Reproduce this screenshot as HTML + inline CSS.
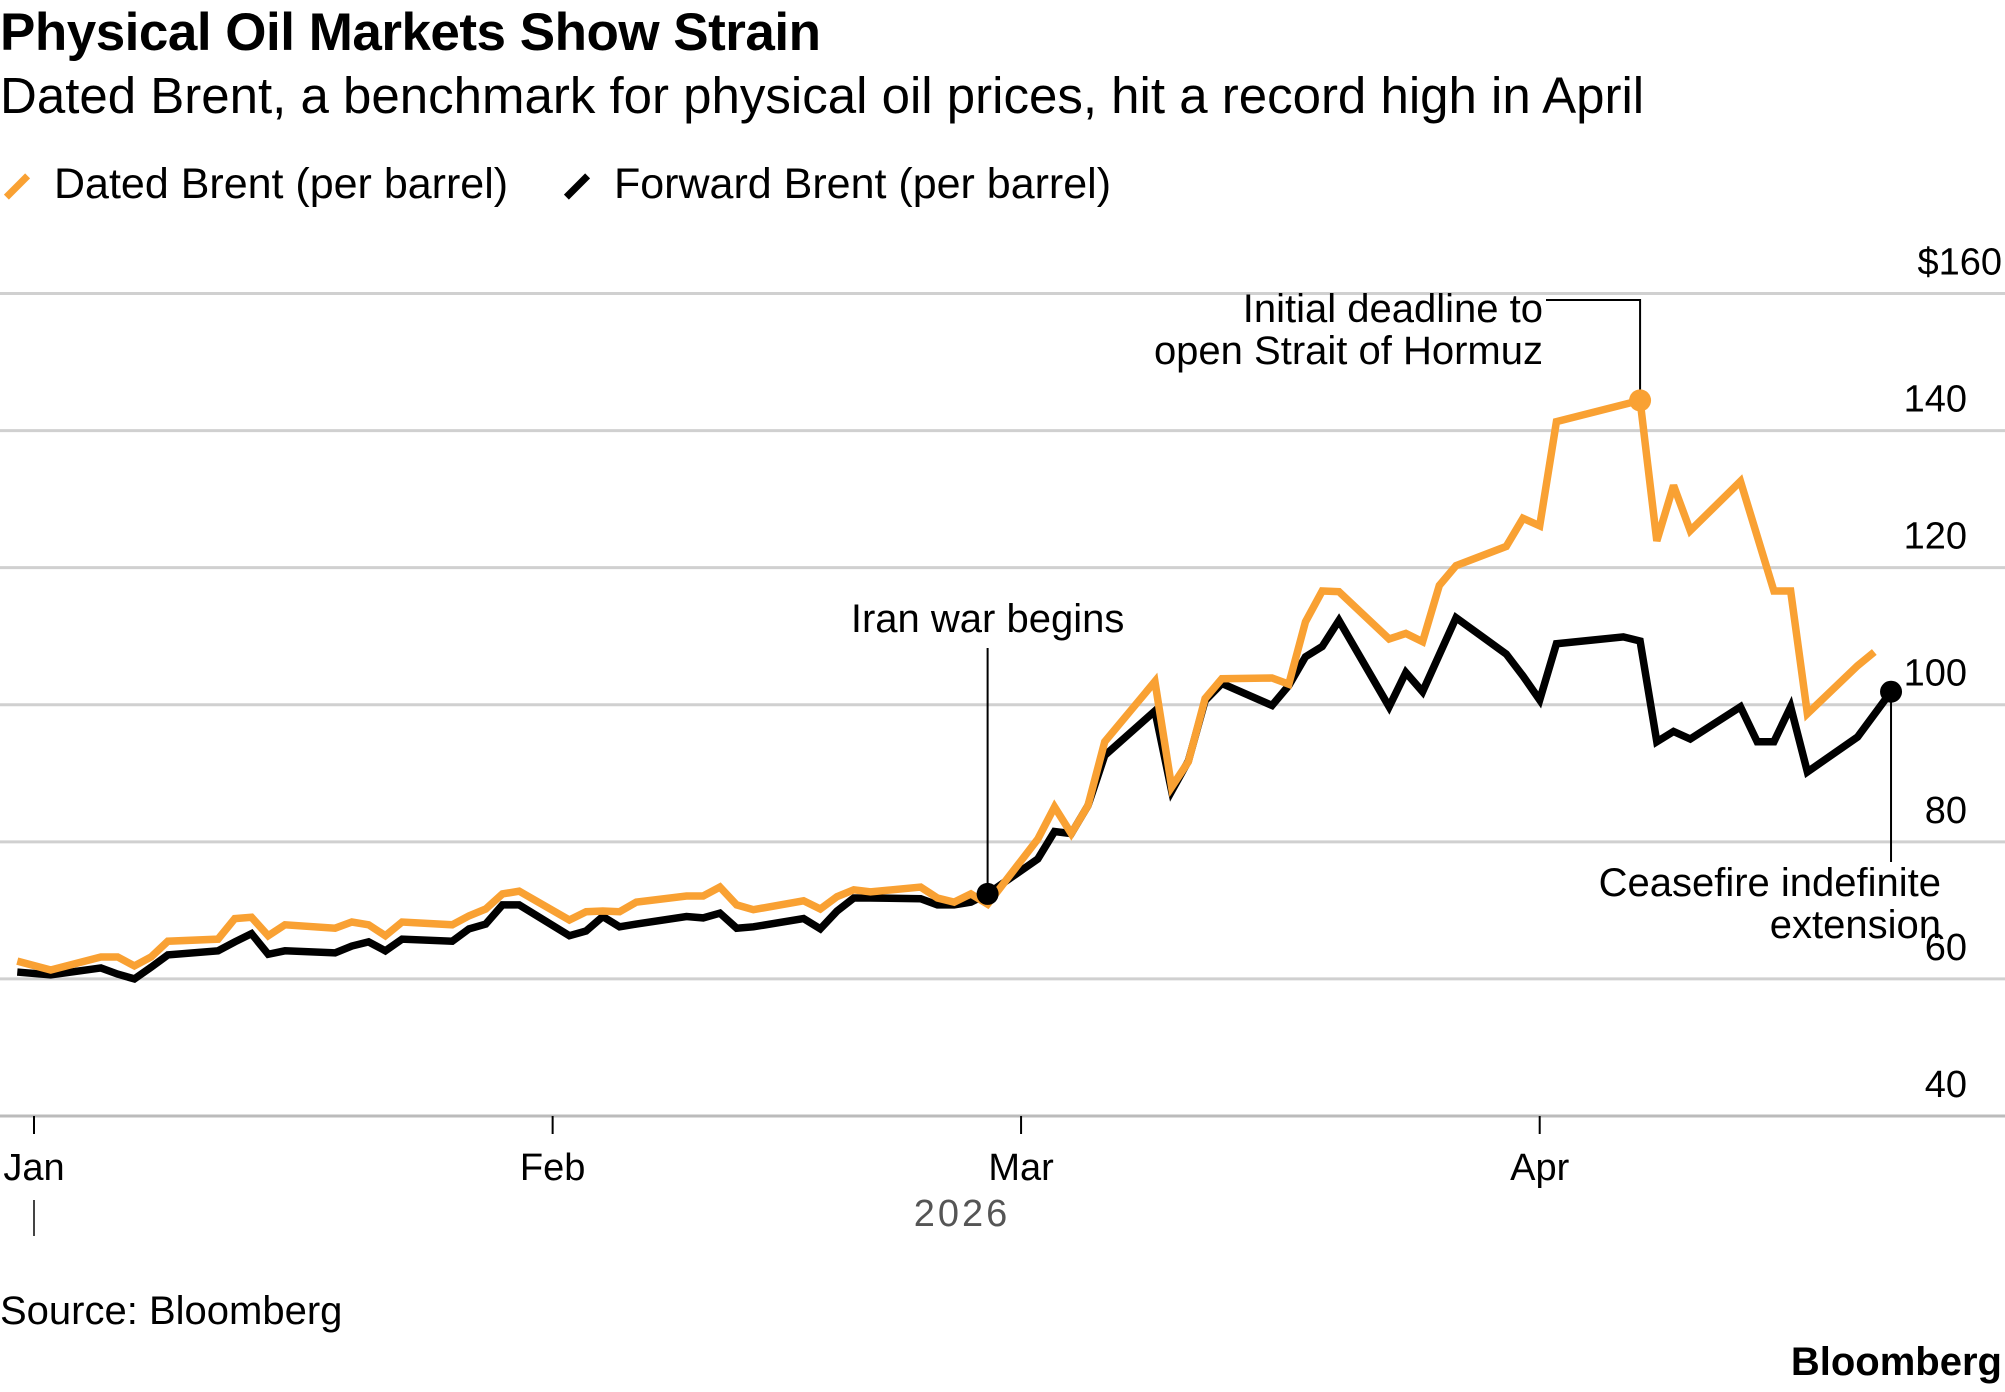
<!DOCTYPE html>
<html><head><meta charset="utf-8"><style>
body{margin:0;background:#fff;font-family:"Liberation Sans",sans-serif;}
#wrap{position:relative;width:2005px;height:1392px;overflow:hidden;}
.t{position:absolute;white-space:nowrap;color:#000;}
</style></head><body>
<div id="wrap">
<div class="t" style="left:0;top:2px;font-size:53px;font-weight:bold;letter-spacing:-0.5px;">Physical Oil Markets Show Strain</div>
<div class="t" style="left:0;top:66px;font-size:51px;">Dated Brent, a benchmark for physical oil prices, hit a record high in April</div>
<div class="t" style="left:0;top:160px;font-size:43px;"><span style="display:inline-block;width:30px;height:7px;background:#f9a133;transform:rotate(-45deg);vertical-align:middle;margin:0 22px 0 2px;"></span>Dated Brent (per barrel)</div>
<div class="t" style="left:560px;top:160px;font-size:43px;"><span style="display:inline-block;width:30px;height:7px;background:#000;transform:rotate(-45deg);vertical-align:middle;margin:0 22px 0 2px;"></span>Forward Brent (per barrel)</div>
<svg id="plot" width="2005" height="1392" style="position:absolute;left:0;top:0"></svg>
<div class="t" style="left:0;top:1289px;font-size:40px;">Source: Bloomberg</div>
<div class="t" style="right:3px;top:1340px;font-size:40px;font-weight:bold;">Bloomberg</div>
</div>
<script>
const yTicks=[40,60,80,100,120,140,160];
const yTickLabels=["40","60","80","100","120","140","$160"];
const monthDays=[0,31,59,90];
const monthLabels=["Jan","Feb","Mar","Apr"];
const datedDays=[-1,1,4,5,6,7,8,11,12,13,14,15,18,19,20,21,22,25,26,27,28,29,32,33,34,35,36,39,40,41,42,43,46,47,48,49,50,53,54,55,56,57,60,61,62,63,64,67,68,69,70,71,74,75,76,77,78,81,82,83,84,85,88,89,90,91,96,97,98,99,102,104,105,106,109,110];
const datedValues=[62.6,61.3,63.2,63.2,61.9,63.2,65.5,65.8,68.8,69.0,66.3,67.9,67.4,68.3,67.9,66.3,68.3,67.9,69.2,70.2,72.4,72.8,68.6,69.8,69.9,69.8,71.2,72.1,72.1,73.4,70.8,70.1,71.4,70.2,72.0,73.0,72.7,73.4,71.8,71.2,72.4,70.9,80.4,85.1,81.2,85.3,94.6,103.4,88.0,91.7,100.9,103.8,103.9,103.0,112.1,116.6,116.5,109.6,110.4,109.2,117.4,120.3,123.1,127.2,126.1,141.3,144.4,123.9,132.0,125.4,132.6,116.6,116.6,98.7,105.7,107.7];
const forwardDays=[-1,1,4,5,6,7,8,11,12,13,14,15,18,19,20,21,22,25,26,27,28,29,32,33,34,35,36,39,40,41,42,43,46,47,48,49,50,53,54,55,56,57,60,61,62,63,64,67,68,69,70,71,74,75,76,77,78,81,82,83,84,85,88,89,90,91,95,96,97,98,99,102,103,104,105,106,109,111];
const forwardValues=[61.0,60.6,61.6,60.7,60.0,61.7,63.5,64.1,65.4,66.6,63.6,64.1,63.8,64.8,65.4,64.1,65.8,65.5,67.3,68.0,70.8,70.8,66.3,67.0,69.1,67.6,68.0,69.1,68.9,69.6,67.4,67.6,68.8,67.3,69.9,71.8,71.8,71.7,70.8,70.8,71.2,72.4,77.5,81.5,81.2,85.3,92.6,99.1,87.4,91.8,100.6,103.1,99.9,102.8,107.0,108.5,112.3,99.7,104.7,101.9,107.3,112.7,107.4,104.2,100.7,108.9,109.9,109.3,94.6,96.1,95.0,99.7,94.6,94.6,99.7,90.2,95.3,101.9];

const NS="http://www.w3.org/2000/svg";
const svg=document.getElementById('plot');
const x=d=>34+d*16.73;
const y=v=>1116-(v-40)*6.8542;
function mk(tag,attrs){const e=document.createElementNS(NS,tag);for(const k in attrs)e.setAttribute(k,attrs[k]);svg.appendChild(e);return e;}
const FF='Liberation Sans, sans-serif';

yTicks.forEach((v,i)=>{
  const g=mk('line',{x1:0,x2:2005,y1:y(v),y2:y(v),stroke:i==0?'#bbb':'#d0d0d0','stroke-width':3});
  
  
  const t=mk('text',{x:1967,y:y(v)-19,'text-anchor':'end','font-size':38,'font-family':FF,fill:'#000'});
  if(i==yTicks.length-1){t.setAttribute('x',2002);}
  t.textContent=yTickLabels[i];
  
  
});
monthDays.forEach((d,i)=>{
  const tk=mk('line',{x1:x(d),x2:x(d),y1:1116,y2:1134,stroke:'#000','stroke-width':2});
  
  
  const t=mk('text',{x:x(d),y:1180,'text-anchor':'middle','font-size':38,'font-family':FF,fill:'#000'});
  t.textContent=monthLabels[i];
  
  
});
const yr=mk('line',{x1:x(0),x2:x(0),y1:1200,y2:1236,stroke:'#444','stroke-width':2});


const yt=mk('text',{x:962,y:1226,'text-anchor':'middle','font-size':38,'letter-spacing':'3','font-family':FF,fill:'#555'});
yt.textContent='2026';



function series(days,vals,color,name){
  const p=mk('polyline',{points:days.map((d,i)=>x(d)+','+y(vals[i])).join(' '),fill:'none',stroke:color,'stroke-width':7.5,'stroke-linejoin':'miter','stroke-miterlimit':3});
  
  
}
series(forwardDays,forwardValues,'#000','forward-brent-line');
series(datedDays,datedValues,'#f9a133','dated-brent-line');

const iw=forwardDays.indexOf(57);
const l1=mk('line',{x1:x(57),x2:x(57),y1:648,y2:y(forwardValues[iw]),stroke:'#000','stroke-width':2});


const c1=mk('circle',{cx:x(57),cy:y(forwardValues[iw]),r:11,fill:'#000'});


const a1=mk('text',{x:x(57),y:632,'text-anchor':'middle','font-size':40,'font-family':FF});
a1.textContent='Iran war begins';



const pk=datedDays.indexOf(96);
const l2=mk('polyline',{points:`1546,300 ${x(96)},300 ${x(96)},${y(datedValues[pk])}`,fill:'none',stroke:'#000','stroke-width':2});


const c2=mk('circle',{cx:x(96),cy:y(datedValues[pk]),r:11,fill:'#f9a133'});


[['Initial deadline to',322],['open Strait of Hormuz',364]].forEach((s,i)=>{
  const t=mk('text',{x:1543,y:s[1],'text-anchor':'end','font-size':40,'font-family':FF});
  t.textContent=s[0];
  
  
});

const ce=forwardDays.indexOf(111);
const l3=mk('line',{x1:x(111),x2:x(111),y1:y(forwardValues[ce]),y2:862,stroke:'#000','stroke-width':2});


const c3=mk('circle',{cx:x(111),cy:y(forwardValues[ce]),r:11,fill:'#000'});


[['Ceasefire indefinite',896],['extension',938]].forEach((s,i)=>{
  const t=mk('text',{x:1941,y:s[1],'text-anchor':'end','font-size':40,'font-family':FF});
  t.textContent=s[0];
  
  
});
</script>
</body></html>
